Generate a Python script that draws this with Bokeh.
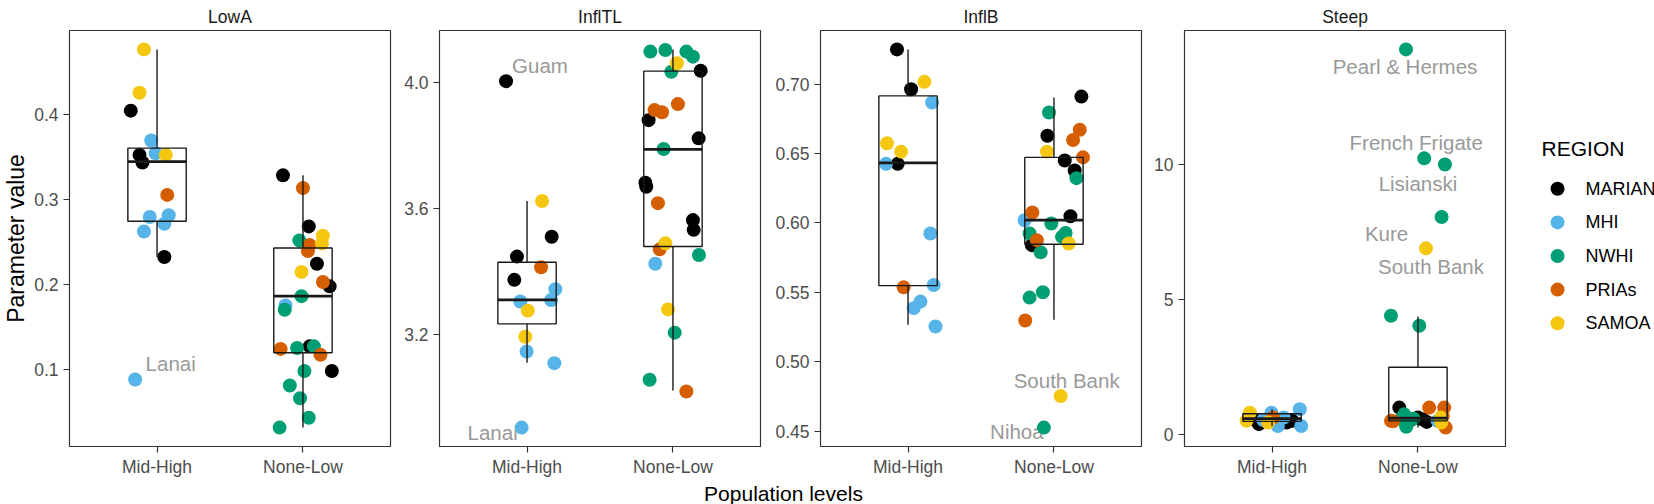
import numpy as np
from bokeh.plotting import figure
from bokeh.models import Range1d, FixedTicker, PrintfTickFormatter, ColumnDataSource
from bokeh.layouts import row, column
from bokeh.core.properties import value
from bokeh.embed import file_html
from bokeh.resources import INLINE

# ---------------- data ----------------
groups = ["Mid-High", "None-Low"]
regions = ["MARIAN", "MHI", "NWHI", "PRIAs", "SAMOA"]
region_colors = ["#000000", "#56B4E9", "#009E73", "#D55E00", "#F5C710"]

# LowA
lowA_group = ["Mid-High"] * 15 + ["None-Low"] * 26
lowA_region = ["SAMOA", "SAMOA", "MARIAN", "MHI", "MARIAN", "MHI", "SAMOA", "MARIAN", "PRIAs",
               "MHI", "MHI", "MHI", "MHI", "MARIAN", "MHI",
               "MARIAN", "PRIAs", "MARIAN", "NWHI", "SAMOA", "SAMOA", "PRIAs", "PRIAs", "MARIAN",
               "SAMOA", "PRIAs", "MARIAN", "NWHI", "MHI", "NWHI", "PRIAs", "NWHI", "MARIAN", "NWHI",
               "PRIAs", "MARIAN", "NWHI", "NWHI", "NWHI", "NWHI", "NWHI"]
lowA_value = [0.476, 0.425, 0.404, 0.369, 0.352, 0.354, 0.352, 0.343, 0.305,
              0.279, 0.281, 0.271, 0.262, 0.232, 0.088,
              0.328, 0.313, 0.268, 0.2515, 0.257, 0.248, 0.246, 0.239, 0.224,
              0.2145, 0.2026, 0.1975, 0.186, 0.175, 0.170, 0.124, 0.125, 0.127, 0.127,
              0.117, 0.098, 0.098, 0.081, 0.066, 0.043, 0.0315]
lowA_jitter = [-0.09, -0.12, -0.18, -0.04, -0.12, -0.01, 0.06, -0.10, 0.07,
               -0.05, 0.08, 0.05, -0.09, 0.05, -0.15,
               -0.137, 0.0, 0.04, -0.025, 0.137, 0.13, 0.046, 0.034, 0.096,
               -0.01, 0.137, 0.183, -0.01, -0.12, -0.125, -0.153, -0.04, 0.046, 0.075,
               0.12, 0.198, 0.01, -0.09, -0.02, 0.04, -0.16]
lowA_box_lo = [0.232, 0.0315]
lowA_box_q1 = [0.274, 0.1195]
lowA_box_med = [0.344, 0.186]
lowA_box_q3 = [0.360, 0.2425]
lowA_box_hi = [0.476, 0.328]
lowA_ticks = [0.1, 0.2, 0.3, 0.4]
lowA_labels = ["Lanai"]
lowA_label_point = [14]

# InflTL
inflTL_group = ["Mid-High"] * 14 + ["None-Low"] * 26
inflTL_region = ["MARIAN", "SAMOA", "MARIAN", "MARIAN", "PRIAs", "MARIAN", "MHI", "MHI", "MHI",
                 "SAMOA", "SAMOA", "MHI", "MHI", "MHI",
                 "NWHI", "NWHI", "NWHI", "NWHI", "SAMOA", "NWHI", "MARIAN", "PRIAs", "PRIAs",
                 "PRIAs", "MARIAN", "MARIAN", "NWHI", "MARIAN", "MARIAN", "PRIAs", "MARIAN",
                 "MARIAN", "SAMOA", "PRIAs", "NWHI", "MHI", "SAMOA", "NWHI", "NWHI", "PRIAs"]
inflTL_value = [4.005, 3.624, 3.510, 3.447, 3.413, 3.373, 3.343, 3.304, 3.309,
                3.275, 3.192, 3.145, 3.108, 2.903,
                4.099, 4.104, 4.099, 4.083, 4.062, 4.035, 4.038, 3.932, 3.913,
                3.906, 3.881, 3.823, 3.789, 3.682, 3.669, 3.617, 3.563,
                3.532, 3.489, 3.470, 3.452, 3.424, 3.279, 3.205, 3.055, 3.018]
inflTL_jitter = [-0.144, 0.103, 0.169, -0.069, 0.096, -0.087, 0.194, -0.046, 0.165,
                 0.005, -0.012, -0.003, 0.187, -0.037,
                 -0.155, -0.052, 0.092, 0.137, 0.027, -0.011, 0.19, 0.034, -0.126,
                 -0.075, -0.167, 0.176, -0.064, -0.189, -0.183, -0.103, 0.137,
                 0.142, -0.052, -0.091, 0.178, -0.121, -0.034, 0.012, -0.16, 0.092]
inflTL_box_lo = [3.109, 3.021]
inflTL_box_q1 = [3.233, 3.479]
inflTL_box_med = [3.309, 3.788]
inflTL_box_q3 = [3.429, 4.037]
inflTL_box_hi = [3.624, 4.106]
inflTL_ticks = [3.2, 3.6, 4.0]
inflTL_labels = ["Guam", "Lanai"]
inflTL_label_point = [0, 13]

# InflB
inflB_group = ["Mid-High"] * 14 + ["None-Low"] * 26
inflB_region = ["MARIAN", "SAMOA", "MARIAN", "MHI", "SAMOA", "SAMOA", "MHI", "MARIAN", "MHI",
                "PRIAs", "MHI", "MHI", "MHI", "MHI",
                "MARIAN", "NWHI", "PRIAs", "PRIAs", "MARIAN", "SAMOA", "MARIAN", "PRIAs",
                "MARIAN", "NWHI", "PRIAs", "MHI", "MARIAN", "NWHI", "NWHI", "NWHI", "NWHI",
                "PRIAs", "MARIAN", "SAMOA", "NWHI", "NWHI", "NWHI", "PRIAs", "SAMOA", "NWHI"]
inflB_value = [0.7251, 0.7017, 0.6964, 0.6868, 0.6574, 0.6514, 0.6426, 0.6426, 0.5924,
               0.5536, 0.5553, 0.5433, 0.5386, 0.5254,
               0.6911, 0.6796, 0.6672, 0.6598, 0.6629, 0.6514, 0.6450, 0.6473,
               0.6378, 0.6323, 0.6075, 0.6020, 0.6048, 0.5996, 0.5924, 0.5928, 0.5900,
               0.5876, 0.5840, 0.5852, 0.5788, 0.5501, 0.5462, 0.5297, 0.4752, 0.4525]
inflB_jitter = [-0.076, 0.112, 0.021, 0.165, -0.144, -0.048, -0.151, -0.071, 0.153,
                -0.03, 0.176, 0.085, 0.039, 0.188,
                0.188, -0.034, 0.177, 0.131, -0.045, -0.048, 0.074, 0.199,
                0.142, 0.154, -0.148, -0.201, 0.113, -0.018, -0.167, 0.08, 0.055,
                -0.117, -0.151, 0.101, -0.091, -0.076, -0.167, -0.197, 0.046, -0.069]
inflB_box_lo = [0.5266, 0.5302]
inflB_box_q1 = [0.5548, 0.5847]
inflB_box_med = [0.6433, 0.6020]
inflB_box_q3 = [0.6916, 0.6473]
inflB_box_hi = [0.7251, 0.6904]
inflB_ticks = [0.45, 0.50, 0.55, 0.60, 0.65, 0.70]
inflB_labels = ["South Bank", "Nihoa"]
inflB_label_point = [38, 39]

# Steep
steep_group = ["Mid-High"] * 14 + ["None-Low"] * 26
steep_region = ["SAMOA", "SAMOA", "MARIAN", "MARIAN", "MHI", "PRIAs", "SAMOA", "MHI", "MARIAN",
                "MARIAN", "MHI", "MHI", "MHI", "MHI",
                "NWHI", "NWHI", "NWHI", "NWHI", "SAMOA", "NWHI", "NWHI",
                "MARIAN", "NWHI", "PRIAs", "NWHI", "MARIAN", "MARIAN", "PRIAs", "PRIAs",
                "PRIAs", "SAMOA", "MHI", "SAMOA", "PRIAs", "NWHI", "MARIAN", "NWHI",
                "MARIAN", "PRIAs", "NWHI"]
steep_value = [0.82, 0.52, 0.52, 0.40, 0.82, 0.64, 0.46, 0.33, 0.46,
               0.52, 0.95, 0.33, 0.64, 0.55,
               14.26, 10.23, 10.0, 8.06, 6.90, 4.41, 4.04,
               1.01, 0.76, 0.52, 0.39, 0.64, 0.58, 1.01, 1.01,
               0.70, 0.64, 0.52, 0.46, 0.27, 0.30, 0.55, 0.60,
               0.48, 0.50, 0.62]
steep_jitter = [-0.152, -0.175, -0.107, -0.09, -0.004, 0.007, -0.027, 0.04, 0.10,
                0.14, 0.19, 0.20, 0.08, -0.06,
                -0.082, 0.043, 0.185, 0.162, 0.055, -0.185, 0.009,
                -0.128, -0.094, -0.185, -0.082, 0.0, 0.03, 0.077, 0.18,
                0.17, 0.157, 0.134, 0.16, 0.19, -0.08, -0.05, -0.03,
                0.06, -0.17, -0.11]
steep_box_lo = [0.33, 0.27]
steep_box_q1 = [0.50, 0.52]
steep_box_med = [0.60, 0.62]
steep_box_q3 = [0.78, 2.50]
steep_box_hi = [0.95, 4.38]
steep_ticks = [0, 5, 10]
steep_labels = ["Pearl & Hermes", "French Frigate", "Lisianski", "Kure", "South Bank"]
steep_label_point = [14, 15, 16, 17, 18]

# ---------------- style ----------------
FONT = "Liberation Sans"
FRAME_W, FRAME_H = 321, 416
TOP, BOTTOM = 30, 30
BOX_W = 0.4
PT_SIZE = 14
TICK_FONT = "17.5px"
LABEL_DX = {"LowA": [35.5], "InflTL": [34, -29], "InflB": [6, -27],
            "Steep": [-1, -8, -27, -55, 5]}
LABEL_DY = {"LowA": [-16], "InflTL": [-16, 5], "InflB": [-16, 4],
            "Steep": [17, -16, 19, 16, 18]}


def make_panel(name, grp, reg, val, jit, lo, q1, med, q3, hi, ticks, fmt,
               labels, label_pt, b_left, b_right):
    grp_x = np.array([groups.index(g) + 1 for g in grp], dtype=float)
    xs = grp_x + np.array(jit)
    vals = np.array(val)
    allv = np.concatenate([vals, lo, hi])
    vmin, vmax = allv.min(), allv.max()
    pad = 0.05 * (vmax - vmin)
    p = figure(frame_width=FRAME_W, frame_height=FRAME_H,
               x_range=Range1d(0.4, 2.6), y_range=Range1d(vmin - pad, vmax + pad),
               output_backend="svg", toolbar_location=None,
               min_border_left=b_left, min_border_right=b_right,
               min_border_top=TOP, min_border_bottom=BOTTOM)
    p.title.text = name
    p.title.align = "center"
    p.title.text_font = FONT
    p.title.text_font_size = "17.5px"
    p.title.text_font_style = "normal"
    p.title.text_color = "#1a1a1a"
    p.title.standoff = 8
    p.grid.visible = False
    p.outline_line_color = "#333333"
    p.outline_line_width = 1.2
    p.background_fill_color = "white"
    p.border_fill_color = "white"
    for ax in (p.xaxis[0], p.yaxis[0]):
        ax.axis_line_color = None
        ax.major_tick_line_color = "#333333"
        ax.major_tick_line_width = 1.2
        ax.major_tick_out = 6
        ax.major_tick_in = 0
        ax.minor_tick_line_color = None
        ax.major_label_text_color = "#4d4d4d"
        ax.major_label_text_font = FONT
        ax.major_label_text_font_size = TICK_FONT
    p.xaxis.major_label_standoff = 4
    p.yaxis.major_label_standoff = 5
    p.xaxis.ticker = FixedTicker(ticks=[1, 2])
    p.xaxis.major_label_overrides = {1: groups[0], 2: groups[1]}
    p.yaxis.ticker = FixedTicker(ticks=ticks)
    p.yaxis.formatter = PrintfTickFormatter(format=fmt)

    # site labels (drawn first: points sit on top)
    lsrc = ColumnDataSource(dict(x=xs[label_pt], y=vals[label_pt], text=labels,
                                 dx=LABEL_DX[name], dy=LABEL_DY[name]))
    p.text(x="x", y="y", text="text", x_offset="dx", y_offset="dy", source=lsrc,
           text_font=value(FONT), text_font_size="20.5px", text_color="#999999",
           text_align="center", text_baseline="middle")

    reg_arr = np.array(reg)
    for r, c in zip(regions, region_colors):
        m = reg_arr == r
        src = ColumnDataSource(dict(x=xs[m], y=vals[m]))
        p.scatter(x="x", y="y", source=src, size=PT_SIZE, marker="circle",
                  fill_color=c, line_color=None)

    bx = np.array([1.0, 2.0])
    bsrc = ColumnDataSource(dict(x=bx, x0=bx - BOX_W / 2, x1=bx + BOX_W / 2,
                                 lo=lo, q1=q1, med=med, q3=q3, hi=hi))
    box_col = "#1a1a1a"
    p.segment(x0="x", y0="q3", x1="x", y1="hi", source=bsrc, line_color=box_col, line_width=1.4)
    p.segment(x0="x", y0="lo", x1="x", y1="q1", source=bsrc, line_color=box_col, line_width=1.4)
    p.vbar(x="x", width=BOX_W, bottom="q1", top="q3", source=bsrc, fill_color=None,
           line_color=box_col, line_width=1.4)
    p.segment(x0="x0", y0="med", x1="x1", y1="med", source=bsrc, line_color=box_col,
              line_width=2.8)
    return p


p1 = make_panel("LowA", lowA_group, lowA_region, lowA_value, lowA_jitter,
                lowA_box_lo, lowA_box_q1, lowA_box_med, lowA_box_q3, lowA_box_hi,
                lowA_ticks, "%.1f", lowA_labels, lowA_label_point, 65, 10)
p2 = make_panel("InflTL", inflTL_group, inflTL_region, inflTL_value, inflTL_jitter,
                inflTL_box_lo, inflTL_box_q1, inflTL_box_med, inflTL_box_q3, inflTL_box_hi,
                inflTL_ticks, "%.1f", inflTL_labels, inflTL_label_point, 39, 10)
p3 = make_panel("InflB", inflB_group, inflB_region, inflB_value, inflB_jitter,
                inflB_box_lo, inflB_box_q1, inflB_box_med, inflB_box_q3, inflB_box_hi,
                inflB_ticks, "%.2f", inflB_labels, inflB_label_point, 50, 6)
p4 = make_panel("Steep", steep_group, steep_region, steep_value, steep_jitter,
                steep_box_lo, steep_box_q1, steep_box_med, steep_box_q3, steep_box_hi,
                steep_ticks, "%d", steep_labels, steep_label_point, 37, 3)

# y-axis title
p1.yaxis.axis_label = "Parameter value"
p1.yaxis.axis_label_text_font = FONT
p1.yaxis.axis_label_text_font_size = "23px"
p1.yaxis.axis_label_text_font_style = "normal"
p1.yaxis.axis_label_text_color = "#000000"
p1.yaxis.axis_label_standoff = 2

# legend key: one dot per region in its own strip to the right of the panels
LEG_W = 1654 - (65 + 10 + 39 + 10 + 50 + 6 + 37 + 3 + 4 * FRAME_W)
KEY_STEP = 33.6          # px between key rows
KEY_FIRST = 158.3        # px from frame top to first key row
KEY_X = 0.327            # horizontal anchor of the key dots (fraction of strip)
key_slot = list(range(len(regions)))
slot_end = -KEY_FIRST / KEY_STEP
slot_start = slot_end + FRAME_H / KEY_STEP
p6 = figure(frame_width=LEG_W, frame_height=FRAME_H,
            x_range=Range1d(0, 1), y_range=Range1d(slot_start, slot_end),
            output_backend="svg", toolbar_location=None,
            x_axis_location=None, y_axis_location=None,
            min_border_left=0, min_border_right=0, min_border_top=TOP, min_border_bottom=BOTTOM,
            outline_line_color=None)
p6.grid.visible = False
ksrc = ColumnDataSource(dict(x=[KEY_X] * len(regions), y=key_slot, region=regions,
                             color=region_colors))
p6.scatter(x="x", y="y", source=ksrc, fill_color="color", line_color=None,
           size=PT_SIZE, marker="circle")
p6.text(x="x", y="y", text="region", source=ksrc, x_offset=28,
        text_font=value(FONT), text_font_size="18px", text_color="#000000",
        text_align="left", text_baseline="middle")
p6.text(x=[KEY_X], y=[-40 / KEY_STEP], text=["REGION"], x_offset=-16,
        text_font=value(FONT), text_font_size="21px", text_color="#000000",
        text_align="left", text_baseline="middle")

# shared x-axis title strip below the panels
p5 = figure(width=1654, height=28, x_range=Range1d(0, 1), y_range=Range1d(0, 1),
            output_backend="svg", toolbar_location=None, y_axis_location=None,
            min_border_left=65, min_border_right=153, min_border_top=0, min_border_bottom=26,
            outline_line_color=None)
p5.grid.visible = False
p5.xaxis.ticker = FixedTicker(ticks=[])
p5.xaxis.axis_line_color = None
p5.xaxis.major_tick_out = 0
p5.xaxis.major_tick_in = 0
p5.xaxis.minor_tick_line_color = None
p5.xaxis.major_label_standoff = 0
p5.xaxis.axis_label = "Population levels"
p5.xaxis.axis_label_standoff = 0
p5.xaxis.axis_label_text_font = FONT
p5.xaxis.axis_label_text_font_size = "21px"
p5.xaxis.axis_label_text_font_style = "normal"
p5.xaxis.axis_label_text_color = "#000000"

layout = column(row(p1, p2, p3, p4, p6), p5)
open("out.html", "w").write(file_html(layout, INLINE))
